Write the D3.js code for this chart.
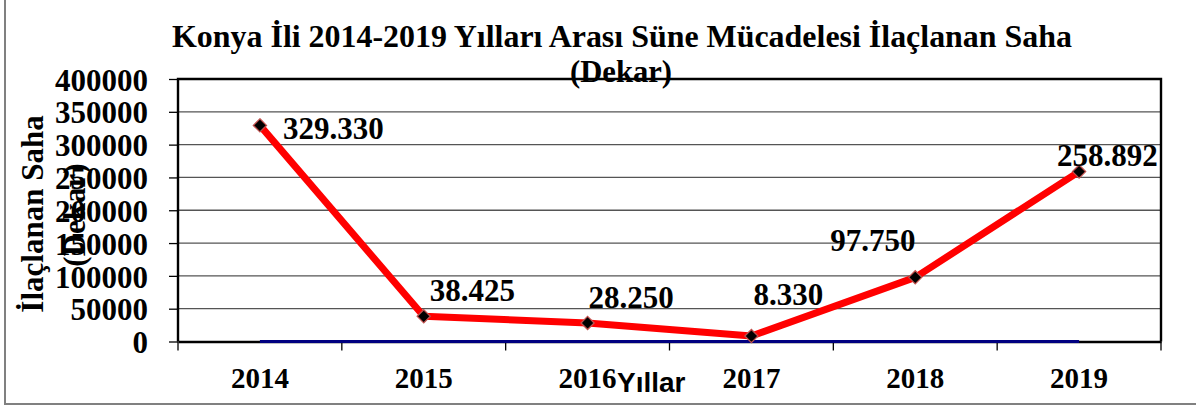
<!DOCTYPE html>
<html><head><meta charset="utf-8">
<script src="https://cdn.jsdelivr.net/npm/d3@7"></script>
<style>html,body{margin:0;padding:0;background:#fff;}svg{display:block;}</style>
</head><body>
<svg id="c" width="1196" height="409"></svg>
<script>
const years = ["2014","2015","2016","2017","2018","2019"];
const values = [329330, 38425, 28250, 8330, 97750, 258892];
const labels = ["329.330","38.425","28.250","8.330","97.750","258.892"];
const zeroSeries = [0,0,0,0,0,0];
const yTicks = [0,50000,100000,150000,200000,250000,300000,350000,400000];
const titleText = "Konya İli 2014-2019 Yılları Arası Süne Mücadelesi İlaçlanan Saha";
const titleLine2 = "(Dekar)";
const yTitle1 = "İlaçlanan Saha";
const yTitle2 = "(Dekar)";
const xTitle = "Yıllar";
// label placement offsets (layout, relative to each point)
const labelDx = [23, 6, 1, 2, -85, -22];
const labelDy = [14, -15, -15, -31, -26, -6];

const svg = d3.select("#c");
const serif = "'Liberation Serif','Times New Roman',serif";
const sans = "'Liberation Sans',Arial,sans-serif";
const L = 178, R = 1161, T = 79, B = 341.5;

const x = d3.scaleBand().domain(years).range([L, R]);
const y = d3.scaleLinear().domain([0, 400000]).range([B, T]);
const cx = d => x(d) + x.bandwidth()/2;

// outer border
svg.append("rect").attr("x",5).attr("y",-5).attr("width",1200).attr("height",409)
  .attr("fill","none").attr("stroke","#808080").attr("stroke-width",2);

// gridlines + y axis ticks
const yAxis = d3.axisLeft(y).tickValues(yTicks).tickSize(9).tickFormat(d3.format("d"));
const gy = svg.append("g").attr("transform",`translate(${L},0)`).call(yAxis);
gy.select(".domain").remove();
gy.selectAll(".tick line").attr("stroke","#000").attr("stroke-width",1.3);
gy.selectAll(".tick text").attr("x",-30).attr("dy","0.36em")
  .attr("font-family",serif).attr("font-weight","bold").attr("font-size",31).attr("fill","#000");

svg.append("g").selectAll("line").data(yTicks.filter(d=>d>0 && d<400000)).join("line")
  .attr("x1",L).attr("x2",R).attr("y1",d=>y(d)).attr("y2",d=>y(d))
  .attr("stroke","#555").attr("stroke-width",1.3);

// plot frame (left, top, right)
svg.append("path").attr("d",`M${L},${B}V${T}H${R}V${B}`).attr("fill","none")
  .attr("stroke","#000").attr("stroke-width",2.4);

// x axis
const xAxis = d3.axisBottom(x).tickSize(0).tickSizeOuter(0);
const gx = svg.append("g").attr("transform",`translate(0,${B})`).call(xAxis);
gx.select(".domain").attr("stroke","#000").attr("stroke-width",2.4);
gx.selectAll(".tick text").attr("y",0).attr("dy",null)
  .attr("transform","translate(0,46)")
  .attr("font-family",serif).attr("font-weight","bold").attr("font-size",29).attr("fill","#000");
// category boundary ticks
const bounds = years.map(d=>x(d)).concat([R]);
svg.append("g").selectAll("line").data(bounds).join("line")
  .attr("x1",d=>d).attr("x2",d=>d).attr("y1",B).attr("y2",B+9)
  .attr("stroke","#000").attr("stroke-width",1.3);

// zero series (blue)
const line = d3.line().x((d,i)=>cx(years[i])).y(d=>y(d));
svg.append("path").datum(zeroSeries).attr("d",line).attr("fill","none")
  .attr("stroke","#000080").attr("stroke-width",3);

// main series
svg.append("path").datum(values).attr("d",line).attr("fill","none")
  .attr("stroke","#ff0000").attr("stroke-width",7).attr("stroke-linejoin","round");

const sym = d3.symbol().type(d3.symbolDiamond2).size(110);
svg.append("g").selectAll("path").data(values).join("path")
  .attr("d",sym).attr("transform",(d,i)=>`translate(${cx(years[i])},${y(d)})`)
  .attr("fill","#000").attr("stroke","#c0504d").attr("stroke-width",1.3);

// data labels
svg.append("g").selectAll("text").data(values).join("text")
  .attr("x",(d,i)=>cx(years[i])+labelDx[i]).attr("y",(d,i)=>y(d)+labelDy[i])
  .attr("font-family",serif).attr("font-weight","bold").attr("font-size",31).attr("fill","#000")
  .text((d,i)=>labels[i]);

// title
svg.append("text").attr("x",622).attr("y",47).attr("text-anchor","middle")
  .attr("font-family",serif).attr("font-weight","bold").attr("font-size",31)
  .attr("textLength",900).attr("lengthAdjust","spacingAndGlyphs").attr("fill","#000")
  .text(titleText);
svg.append("text").attr("x",621).attr("y",82).attr("text-anchor","middle")
  .attr("font-family",serif).attr("font-weight","bold").attr("font-size",31)
  .attr("textLength",102).attr("lengthAdjust","spacingAndGlyphs").attr("fill","#000")
  .text(titleLine2);

// y title
svg.append("text").attr("transform","translate(43,214) rotate(-90)").attr("text-anchor","middle")
  .attr("font-family",serif).attr("font-weight","bold").attr("font-size",31).attr("fill","#000")
  .text(yTitle1);
svg.append("text").attr("transform","translate(85,215) rotate(-90)").attr("text-anchor","middle")
  .attr("font-family",serif).attr("font-weight","bold").attr("font-size",31).attr("fill","#000")
  .text(yTitle2);

// x title
svg.append("text").attr("x",617).attr("y",392)
  .attr("font-family",sans).attr("font-weight","bold").attr("font-size",28).attr("fill","#000")
  .text(xTitle);
</script>
</body></html>
